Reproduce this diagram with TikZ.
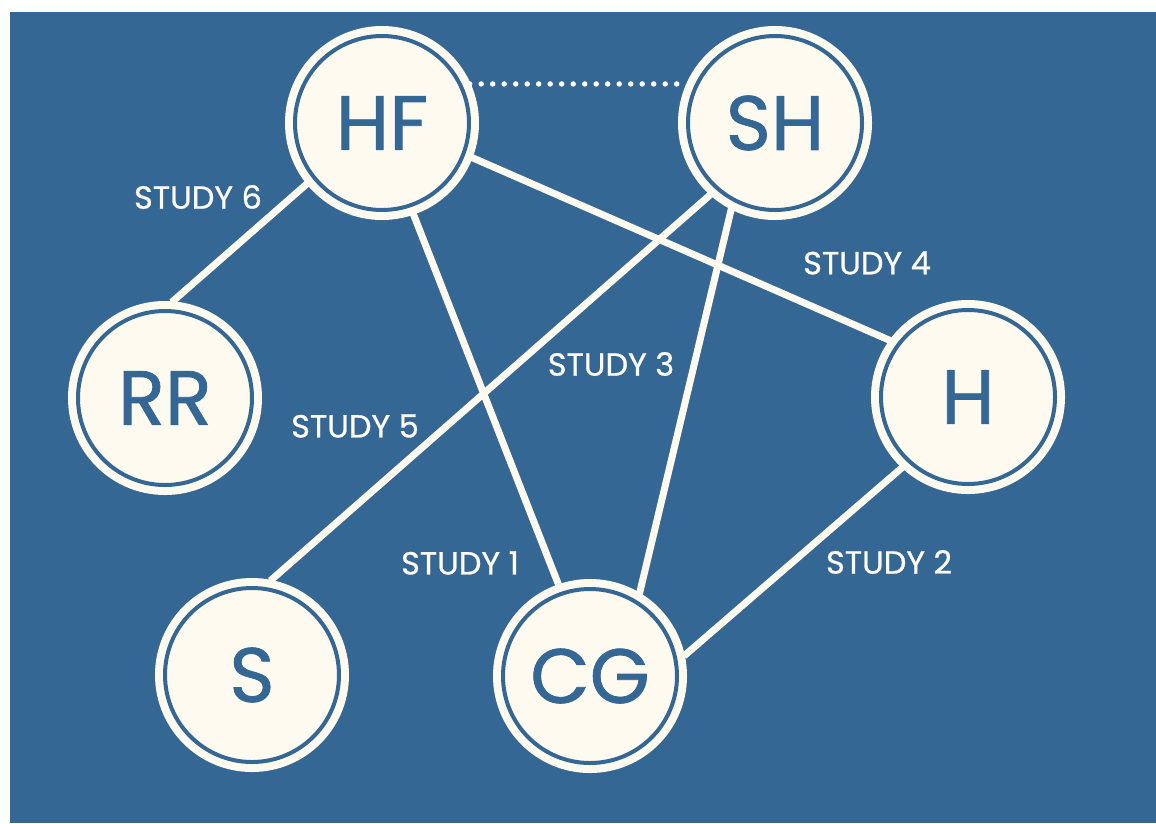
\documentclass[tikz,border=0pt]{standalone}
\usepackage{fontspec}
\setmainfont{Poppins}
\newfontfamily\circfont{Poppins}[FakeBold=1.0]
\newfontfamily\lblfont{Poppins}[FakeBold=0.8]
\definecolor{bg}{RGB}{52,103,148}
\definecolor{cream}{RGB}{255,250,240}
\begin{document}
\begin{tikzpicture}[x=1pt,y=-1pt,
  circ/.style={circle, fill=cream, draw=cream, double=bg, line width=8pt, double distance=4pt,
    minimum size=174pt, inner sep=0pt, outer sep=9pt, text=bg,
    font=\circfont\fontsize{77}{79}\selectfont},
  link/.style={cream, line width=7pt},
  lbl/.style={text=cream, font=\lblfont\fontsize{32}{34}\selectfont, inner sep=0pt}]
\useasboundingbox (0,0) rectangle (1156,823);
\fill[white] (0,0) rectangle (1156,823);
\fill[bg] (10,12) rectangle (1156,823);
\node[circ] (HF) at (382,123) {HF};
\node[circ] (SH) at (775,123) {SH};
\node[circ] (RR) at (165,398) {RR};
\node[circ] (H) at (968,397) {H};
\node[circ] (S) at (252,675) {S};
\node[circ] (CG) at (590,676) {CG};
\draw[link] (HF.219.6) -- (RR.86);
\draw[link] (HF.-71.7) -- (CG.109);
\draw[link] (HF.-21) -- (H.144);
\draw[link] (SH.228.7) -- (S.79.5);
\draw[link] (SH.243) -- (CG.59);
\draw[link] (H.227) -- (CG.12);
\draw[cream, line width=5.5pt, line cap=round, dash pattern=on 0pt off 11.5pt] (HF.24) -- (SH.156);
\node[lbl] (l6) at (198,197) {STUDY 6};
\node[lbl] (l4) at (867,263) {STUDY 4};
\node[lbl] (l3) at (611,364) {STUDY 3};
\node[lbl] (l5) at (355,426) {STUDY 5};
\node[lbl] (l1) at (460,563) {STUDY 1};
\node[lbl] (l2) at (889,562) {STUDY 2};
\end{tikzpicture}
\end{document}
